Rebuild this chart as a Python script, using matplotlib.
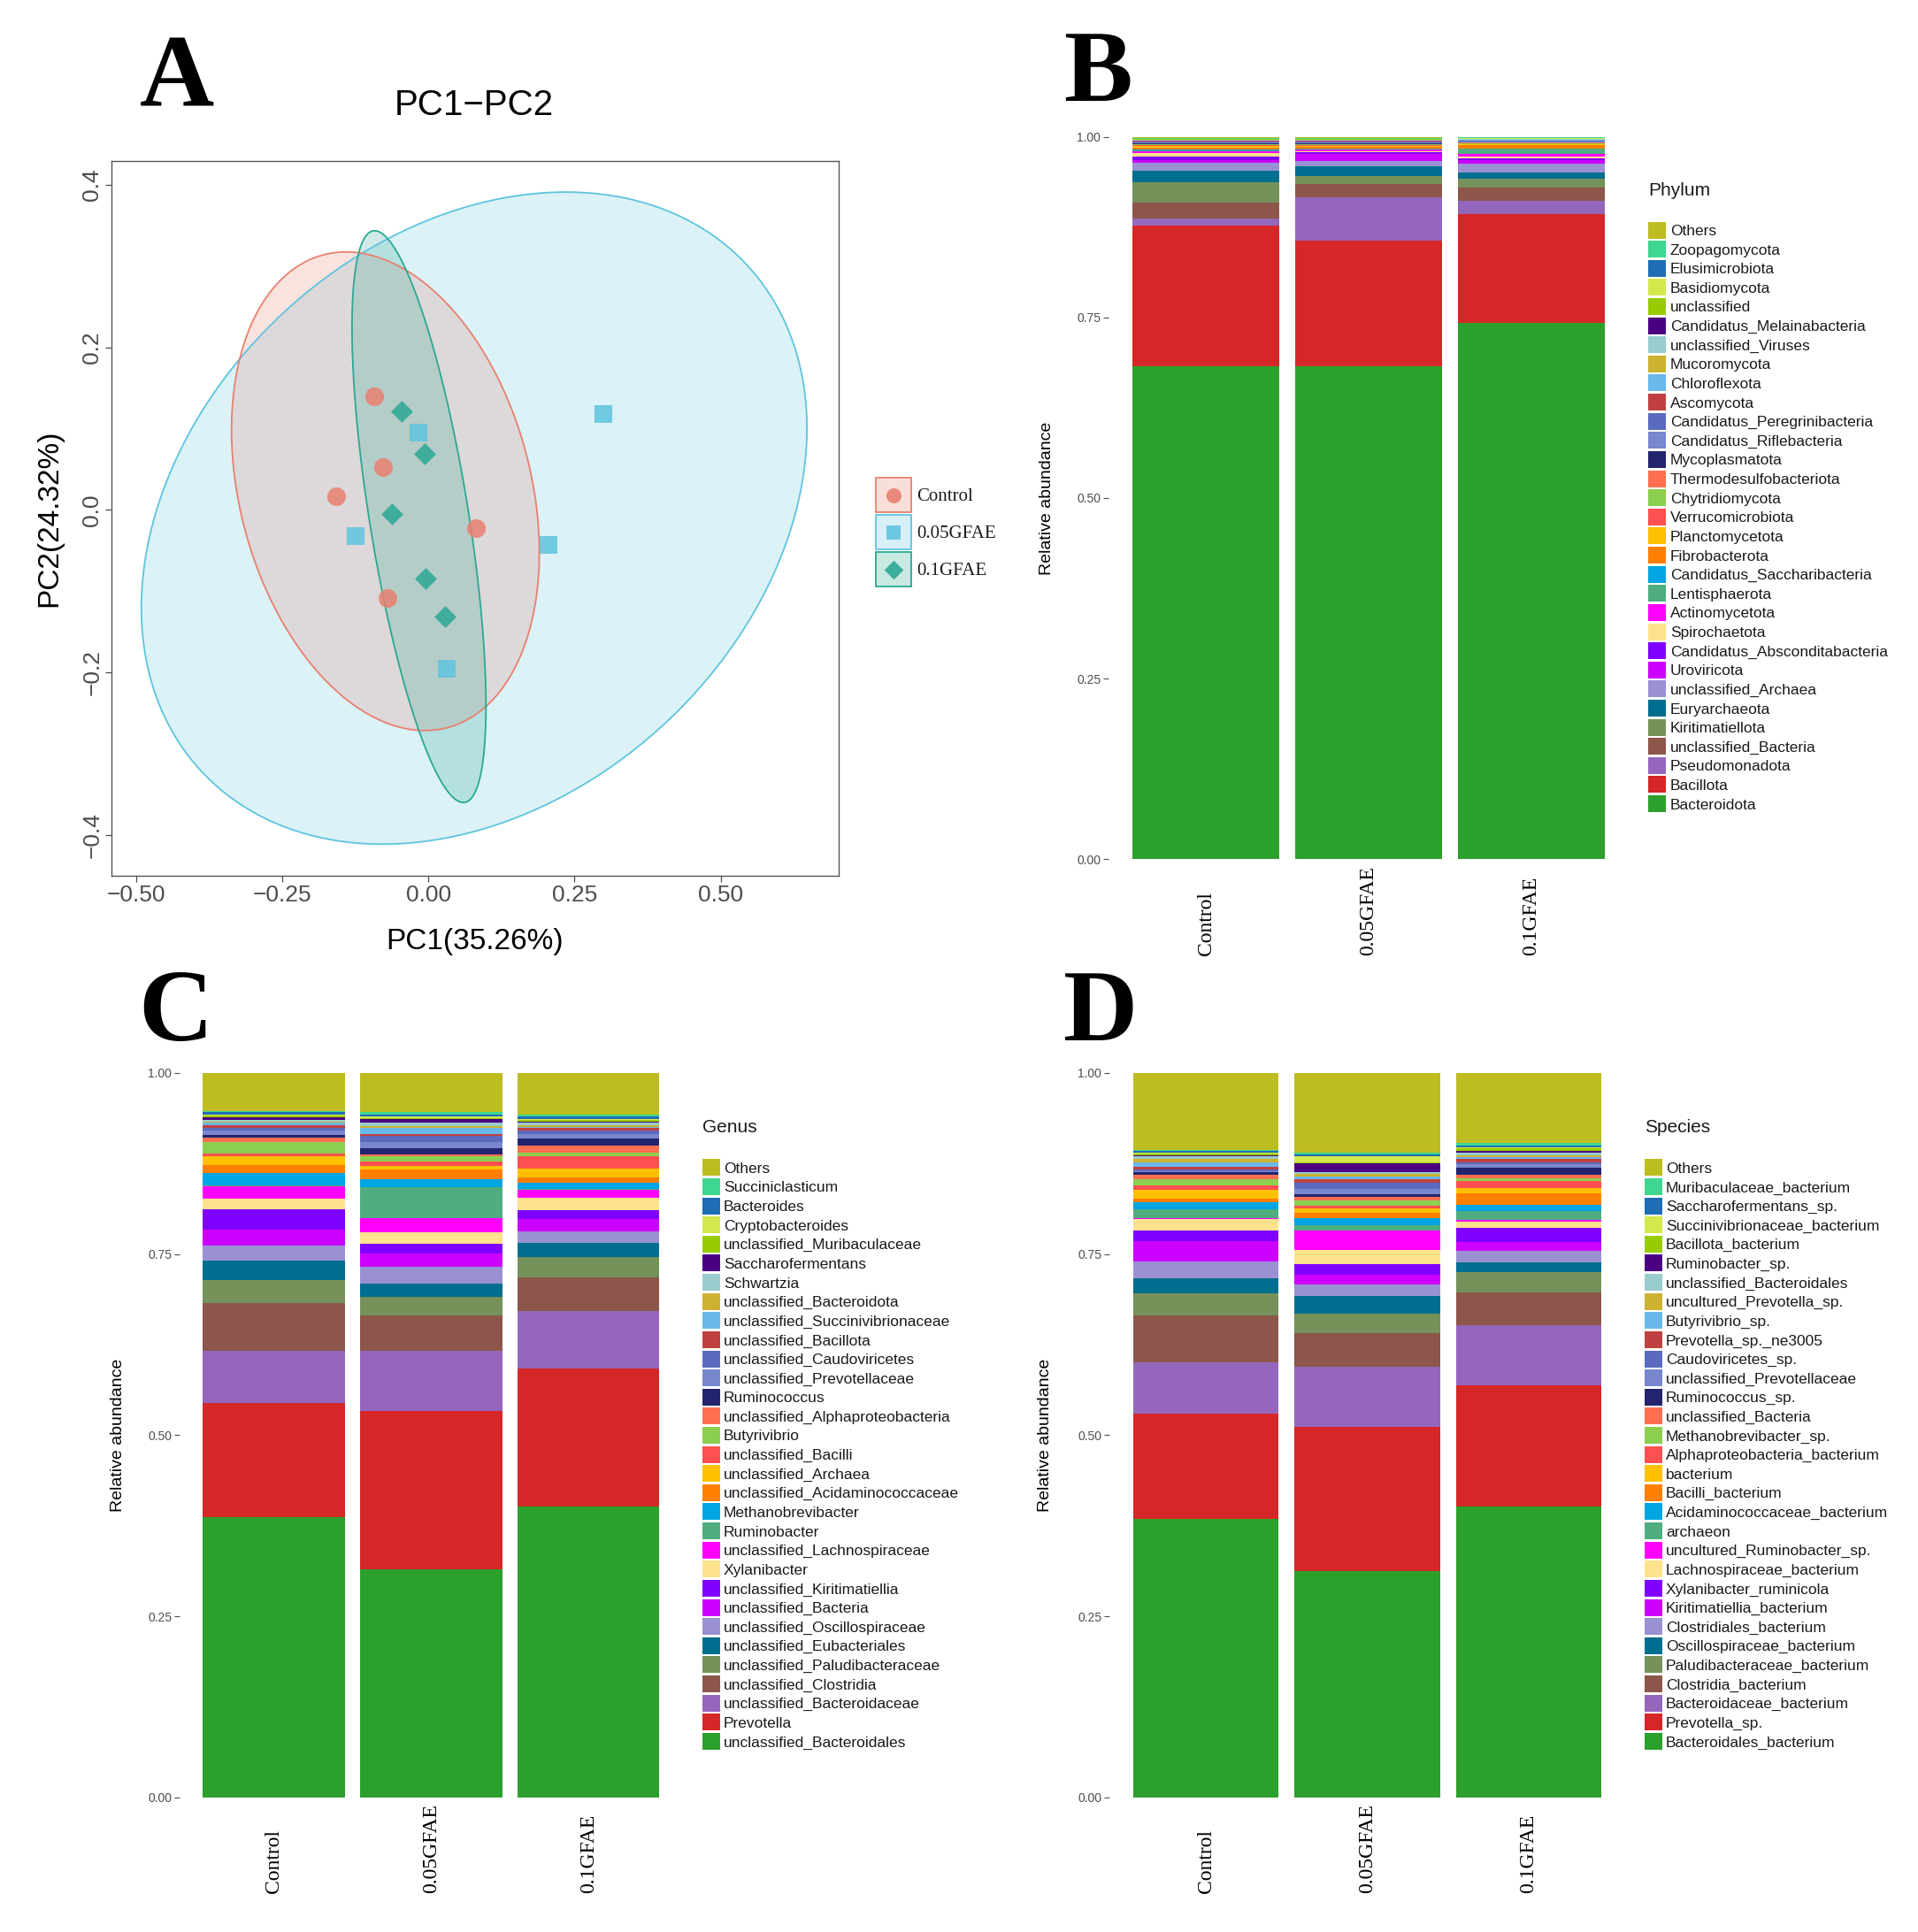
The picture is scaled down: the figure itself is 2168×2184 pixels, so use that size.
import numpy as np
import matplotlib
matplotlib.use("Agg")
import matplotlib.pyplot as plt
from matplotlib.patches import Rectangle

plt.rcParams['font.family'] = ['Liberation Sans', 'DejaVu Sans']

W, H = 2168, 2184

groups = ['Control', '0.05GFAE', '0.1GFAE']

# ---- panel A : PCA scores ----
pc_control_x = [-0.092, -0.078, -0.157, 0.081, -0.070]
pc_control_y = [0.140, 0.053, 0.017, -0.022, -0.108]
pc_005_x = [0.300, -0.017, -0.124, 0.206, 0.031]
pc_005_y = [0.118, 0.095, -0.032, -0.043, -0.195]
pc_01_x = [-0.046, -0.006, -0.062, -0.004, 0.028]
pc_01_y = [0.121, 0.069, -0.005, -0.084, -0.131]

# ---- panel B : phylum (bottom -> top of the stack) ----
phylum_names = ['Bacteroidota', 'Bacillota', 'Pseudomonadota', 'unclassified_Bacteria',
                'Kiritimatiellota', 'Euryarchaeota', 'unclassified_Archaea', 'Uroviricota',
                'Candidatus_Absconditabacteria', 'Spirochaetota', 'Actinomycetota',
                'Lentisphaerota', 'Candidatus_Saccharibacteria', 'Fibrobacterota',
                'Planctomycetota', 'Verrucomicrobiota', 'Chytridiomycota',
                'Thermodesulfobacteriota', 'Mycoplasmatota', 'Candidatus_Riflebacteria',
                'Candidatus_Peregrinibacteria', 'Ascomycota', 'Chloroflexota', 'Mucoromycota',
                'unclassified_Viruses', 'Candidatus_Melainabacteria', 'unclassified',
                'Basidiomycota', 'Elusimicrobiota', 'Zoopagomycota', 'Others']
phylum_control = [0.682, 0.195, 0.010, 0.022, 0.028, 0.016, 0.011, 0.003, 0.005, 0.005, 0.003,
                  0.001, 0.001, 0.003, 0.002, 0.001, 0.001, 0.001, 0.001, 0.001, 0.001, 0.001,
                  0.0005, 0.0005, 0.0005, 0.0005, 0.0005, 0.0005, 0.0005, 0.0005, 0.002]
phylum_005 = [0.682, 0.174, 0.060, 0.018, 0.012, 0.013, 0.007, 0.010, 0.002, 0.002, 0.002,
              0.001, 0.001, 0.002, 0.001, 0.001, 0.001, 0.001, 0.001, 0.001, 0.001, 0.001,
              0.0005, 0.0005, 0.0005, 0.0005, 0.0005, 0.0005, 0.0005, 0.0005, 0.002]
phylum_01 = [0.742, 0.151, 0.018, 0.018, 0.013, 0.008, 0.013, 0.004, 0.003, 0.003, 0.003,
             0.007, 0.001, 0.004, 0.001, 0.001, 0.0005, 0.001, 0.001, 0.001, 0.001, 0.0005,
             0.0005, 0.0005, 0.0005, 0.0005, 0.0005, 0.0005, 0.0005, 0.0005, 0.001]

# ---- panel C : genus ----
genus_names = ['unclassified_Bacteroidales', 'Prevotella', 'unclassified_Bacteroidaceae',
               'unclassified_Clostridia', 'unclassified_Paludibacteraceae',
               'unclassified_Eubacteriales', 'unclassified_Oscillospiraceae',
               'unclassified_Bacteria', 'unclassified_Kiritimatiellia', 'Xylanibacter',
               'unclassified_Lachnospiraceae', 'Ruminobacter', 'Methanobrevibacter',
               'unclassified_Acidaminococcaceae', 'unclassified_Archaea', 'unclassified_Bacilli',
               'Butyrivibrio', 'unclassified_Alphaproteobacteria', 'Ruminococcus',
               'unclassified_Prevotellaceae', 'unclassified_Caudoviricetes',
               'unclassified_Bacillota', 'unclassified_Succinivibrionaceae',
               'unclassified_Bacteroidota', 'Schwartzia', 'Saccharofermentans',
               'unclassified_Muribaculaceae', 'Cryptobacteroides', 'Bacteroides',
               'Succiniclasticum', 'Others']
genus_control = [0.387, 0.158, 0.071, 0.067, 0.031, 0.027, 0.021, 0.022, 0.028, 0.014, 0.018,
                 0.001, 0.017, 0.011, 0.012, 0.004, 0.016, 0.006, 0.004, 0.006, 0.003, 0.004,
                 0.003, 0.002, 0.002, 0.004, 0.002, 0.002, 0.003, 0.002, 0.052]
genus_005 = [0.315, 0.219, 0.083, 0.048, 0.026, 0.018, 0.024, 0.018, 0.013, 0.016, 0.020,
             0.043, 0.011, 0.013, 0.005, 0.006, 0.007, 0.003, 0.008, 0.009, 0.008, 0.003,
             0.008, 0.003, 0.004, 0.005, 0.002, 0.002, 0.002, 0.004, 0.054]
genus_01 = [0.402, 0.190, 0.080, 0.046, 0.028, 0.020, 0.015, 0.018, 0.012, 0.017, 0.011,
            0.001, 0.008, 0.008, 0.012, 0.017, 0.005, 0.010, 0.010, 0.006, 0.004, 0.004,
            0.001, 0.003, 0.003, 0.002, 0.002, 0.002, 0.003, 0.002, 0.058]

# ---- panel D : species ----
species_names = ['Bacteroidales_bacterium', 'Prevotella_sp.', 'Bacteroidaceae_bacterium',
                 'Clostridia_bacterium', 'Paludibacteraceae_bacterium',
                 'Oscillospiraceae_bacterium', 'Clostridiales_bacterium',
                 'Kiritimatiellia_bacterium', 'Xylanibacter_ruminicola',
                 'Lachnospiraceae_bacterium', 'uncultured_Ruminobacter_sp.', 'archaeon',
                 'Acidaminococcaceae_bacterium', 'Bacilli_bacterium', 'bacterium',
                 'Alphaproteobacteria_bacterium', 'Methanobrevibacter_sp.',
                 'unclassified_Bacteria', 'Ruminococcus_sp.', 'unclassified_Prevotellaceae',
                 'Caudoviricetes_sp.', 'Prevotella_sp._ne3005', 'Butyrivibrio_sp.',
                 'uncultured_Prevotella_sp.', 'unclassified_Bacteroidales', 'Ruminobacter_sp.',
                 'Bacillota_bacterium', 'Succinivibrionaceae_bacterium', 'Saccharofermentans_sp.',
                 'Muribaculaceae_bacterium', 'Others']
species_control = [0.385, 0.145, 0.070, 0.065, 0.031, 0.021, 0.023, 0.028, 0.014, 0.017,
                   0.001, 0.012, 0.010, 0.005, 0.012, 0.006, 0.009, 0.005, 0.004, 0.002,
                   0.002, 0.003, 0.007, 0.004, 0.004, 0.002, 0.002, 0.001, 0.002, 0.002, 0.106]
species_005 = [0.312, 0.200, 0.083, 0.046, 0.027, 0.024, 0.016, 0.013, 0.015, 0.020,
               0.027, 0.007, 0.010, 0.007, 0.006, 0.004, 0.007, 0.005, 0.004, 0.007,
               0.009, 0.004, 0.004, 0.004, 0.002, 0.012, 0.002, 0.008, 0.003, 0.002, 0.110]
species_01 = [0.401, 0.168, 0.083, 0.045, 0.028, 0.013, 0.017, 0.012, 0.019, 0.009,
              0.002, 0.013, 0.008, 0.016, 0.007, 0.010, 0.004, 0.004, 0.010, 0.005,
              0.003, 0.004, 0.003, 0.003, 0.003, 0.003, 0.003, 0.002, 0.002, 0.003, 0.097]

palette = ['#2CA02C', '#D62728', '#9467BD', '#8C564B', '#74925A', '#006E8F', '#9A91D3',
           '#CC00FF', '#7F00FF', '#FFE38C', '#FF00FF', '#4FAD80', '#00A5E3', '#FF7F00',
           '#FFC000', '#FF4F50', '#8CCF4F', '#FF6F50', '#24246E', '#7887CE', '#5A6BBF',
           '#C04040', '#6BB8EA', '#CCB230', '#99CCCC', '#4B0082', '#99CC00', '#D4E84E',
           '#1F6DB5', '#3FD690', '#BDBD22']

grp_colors = ['#E8806F', '#5EC4DF', '#2AA892']
grp_markers = ['o', 's', 'D']


def cov_trob(x, nu=5, maxit=25, tol=0.01):
    # same robust estimate ggplot's stat_ellipse(type = "t") uses
    n, p = x.shape
    loc = x.mean(0)
    w = np.ones(n)
    for _ in range(maxit):
        w0 = w
        X = x - loc
        A = np.sqrt(w / w.sum())[:, None] * X
        _, d, vt = np.linalg.svd(A, full_matrices=False)
        wX = X @ vt.T @ np.diag(1 / d)
        Q = (wX ** 2).sum(1)
        w = (nu + p) / (nu + Q)
        loc = (w[:, None] * x).sum(0) / w.sum()
        if np.all(np.abs(w - w0) < tol):
            break
    S = np.sqrt(w)[:, None] * X
    return loc, S.T @ S / w.sum()


def ellipse(xs, ys):
    pts = np.column_stack([xs, ys])
    center, shape = cov_trob(pts)
    radius = np.sqrt(2 * 6.944)  # qf(0.95, 2, n-1) with n = 5
    t = np.linspace(0, 2 * np.pi, 200)
    circle = np.column_stack([np.cos(t), np.sin(t)])
    L = np.linalg.cholesky(shape)
    e = center + radius * circle @ L.T
    return e[:, 0], e[:, 1]


fig = plt.figure(figsize=(W / 100, H / 100), dpi=100)


def px_axes(l, t, r, b):
    return fig.add_axes([l / W, 1 - b / H, (r - l) / W, (b - t) / H])


# ---------------- panel A ----------------
axA = px_axes(126, 182, 948, 990)
pcs = [(pc_control_x, pc_control_y), (pc_005_x, pc_005_y), (pc_01_x, pc_01_y)]
for k in [1, 0, 2]:
    ex, ey = ellipse(*pcs[k])
    axA.fill(ex, ey, facecolor=grp_colors[k], alpha=0.22, lw=0)
    axA.plot(ex, ey, color=grp_colors[k], lw=1.3)
for k in range(3):
    xs, ys = pcs[k]
    size = 230 if grp_markers[k] == 'o' else 190 if grp_markers[k] == 's' else 160
    axA.scatter(xs, ys, marker=grp_markers[k], s=size, color=grp_colors[k],
                alpha=0.85, lw=0, zorder=5)
axA.set_xlim(-0.542, 0.702)
axA.set_ylim(-0.450, 0.429)
axA.set_xticks([-0.5, -0.25, 0, 0.25, 0.5])
axA.set_xticklabels(['\u22120.50', '\u22120.25', '0.00', '0.25', '0.50'])
axA.set_yticks([-0.4, -0.2, 0, 0.2, 0.4])
axA.set_yticklabels(['\u22120.4', '\u22120.2', '0.0', '0.2', '0.4'], rotation=90, va='center')
axA.tick_params(length=5, width=0.9, color='#4D4D4D', labelcolor='#4D4D4D',
                labelsize=19, pad=2)
for s in axA.spines.values():
    s.set_color('#555555')
    s.set_linewidth(1.0)
axA.text(0.498, 1.078, 'PC1\u2212PC2', transform=axA.transAxes, ha='center',
         va='center', fontsize=29)
axA.text(0.50, -0.092, 'PC1(35.26%)', transform=axA.transAxes, ha='center',
         va='center', fontsize=24)
axA.text(-0.086, 0.50, 'PC2(24.32%)', transform=axA.transAxes, ha='center',
         va='center', fontsize=24, rotation=90)


# ---------------- stacked bar panels ----------------
def stacked(ax, names, vals, ylab_x):
    x = np.arange(1, 4)
    bottom = np.zeros(3)
    for k in range(len(names)):
        v = np.array([vals[0][k], vals[1][k], vals[2][k]])
        ax.bar(x, v, 0.9, bottom=bottom, color=palette[k], linewidth=0)
        bottom += v
    ax.set_xlim(0.4, 3.6)
    ax.set_ylim(0, 1)
    for s in ax.spines.values():
        s.set_visible(False)
    ax.set_yticks([0, 0.25, 0.5, 0.75, 1.0])
    ax.set_yticklabels(['0.00', '0.25', '0.50', '0.75', '1.00'])
    ax.tick_params(axis='y', length=4, width=0.8, color='#4D4D4D', labelcolor='#4D4D4D',
                   labelsize=10, pad=2)
    ax.set_xticks(x)
    ax.set_xticklabels(groups, rotation=90, va='bottom', fontsize=17,
                       family=['Liberation Serif', 'DejaVu Serif'])
    ax.tick_params(axis='x', length=0, pad=78)
    ax.text(ylab_x, 0.5, 'Relative abundance', transform=ax.transAxes, rotation=90,
            ha='center', va='center', fontsize=14)


axB = px_axes(1252.6, 154.5, 1841.4, 971.4)
stacked(axB, phylum_names, [phylum_control, phylum_005, phylum_01], -0.117)
axC = px_axes(202.6, 1213, 772.2, 2031.7)
stacked(axC, genus_names, [genus_control, genus_005, genus_01], -0.122)
axD = px_axes(1253.5, 1213, 1837.5, 2031.7)
stacked(axD, species_names, [species_control, species_005, species_01], -0.124)

# ---------------- overlay: letters and legends ----------------
ov = fig.add_axes([0, 0, 1, 1], zorder=10)
ov.set_xlim(0, W)
ov.set_ylim(H, 0)
ov.axis('off')

serif = ['Liberation Serif', 'DejaVu Serif']
for lab, lx, ly in [('A', 158, 119), ('B', 1202, 114), ('C', 156, 1176), ('D', 1202, 1176)]:
    ov.text(lx, ly, lab, fontsize=84, fontweight='bold', family=serif,
            ha='left', va='baseline')

for k in range(3):
    yc = 559.5 + k * 42
    ov.add_patch(Rectangle((990, yc - 19.5), 40, 39, facecolor=grp_colors[k], alpha=0.25, lw=0))
    ov.add_patch(Rectangle((990, yc - 19.5), 40, 39, fill=False, edgecolor=grp_colors[k], lw=1.3))
    ov.scatter([1010], [yc], marker=grp_markers[k], s=150 if k == 0 else 120,
               color=grp_colors[k], lw=0, alpha=0.9)
    ov.text(1036, yc, groups[k], fontsize=15, family=serif, ha='left',
            va='center_baseline', color='#1A1A1A')


def legend(title, names, kx, tx, ty, y0):
    ov.text(kx, ty, title, fontsize=15, ha='left', va='center_baseline', color='#1A1A1A')
    n = len(names)
    for i in range(n):
        k = n - 1 - i
        yc = y0 + i * 21.62
        ov.add_patch(Rectangle((kx, yc - 9.5), 20, 19, facecolor=palette[k], lw=0))
        ov.text(tx, yc, names[k], fontsize=12.5, ha='left', va='center_baseline',
                color='#1A1A1A')


legend('Phylum', phylum_names, 1863, 1888, 213.6, 260)
legend('Genus', genus_names, 794, 818, 1272.6, 1319.8)
legend('Species', species_names, 1859, 1883, 1272.6, 1319.8)

fig.savefig('out.png', dpi=100)
